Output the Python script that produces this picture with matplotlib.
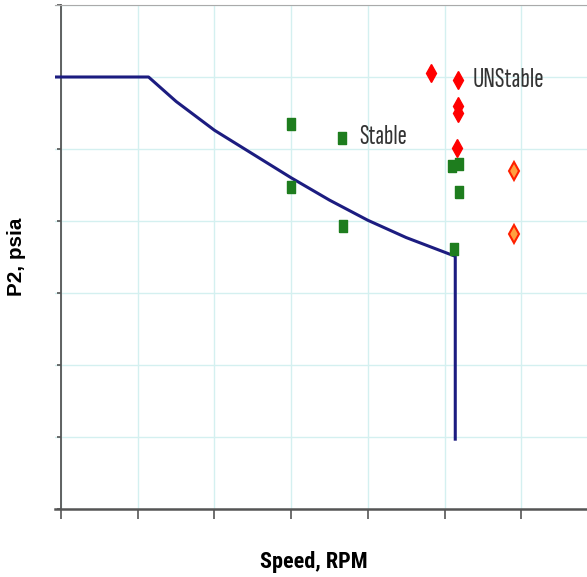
import numpy as np
import matplotlib.pyplot as plt
from matplotlib import font_manager
from matplotlib.font_manager import FontProperties
from matplotlib.textpath import TextPath

# Граница устойчивости
line_x = [-0.1, 1.14, 1.5, 2.0, 2.5, 3.0, 3.5, 4.0, 4.5, 5.14, 5.14]
line_y = [6.0, 6.0, 5.66, 5.26, 4.93, 4.60, 4.29, 4.01, 3.77, 3.51, 0.97]

# Устойчивые точки
stable_x = [3.0, 3.0, 3.66, 3.68, 5.10, 5.19, 5.19, 5.13]
stable_y = [5.35, 4.47, 5.15, 3.93, 4.77, 4.79, 4.40, 3.61]

# Неустойчивые точки
unstable_x = [4.83, 5.17, 5.17, 5.17, 5.16]
unstable_y = [6.06, 5.96, 5.60, 5.50, 5.01]

# Неустойчивые точки (светлые)
unstable2_x = [5.90, 5.90]
unstable2_y = [4.70, 3.82]

W, H = 587, 577

fonts = font_manager.fontManager.ttflist
names = set(f.name for f in fonts)


def weight_num(w):
    if isinstance(w, (int, float)):
        return w
    return font_manager.weight_dict.get(w, 400)


def pick(prefs, bold=False):
    for p in prefs:
        if p not in names:
            continue
        if bold and not any(f.name == p and weight_num(f.weight) >= 600 for f in fonts):
            continue
        return p
    return 'Liberation Sans'


CONDENSED = ['Sofia Sans Extra Condensed', 'Saira Extra Condensed',
             'Roboto Condensed', 'Barlow Condensed', 'Archivo Narrow',
             'Pathway Gothic One', 'Open Sans Condensed', 'PT Sans Narrow']
NARROW = pick(CONDENSED)
NARROW_BOLD = pick(CONDENSED, bold=True)
PLAIN = pick(['Liberation Sans'], bold=True)


# Подгонка размера текста под прямоугольник (в пикселях картинки)
def fit_text(fig, s, x0, x1, yt, yb, family, weight='normal', rotate=False,
             color='black'):
    prop = FontProperties(family=family, weight=weight)
    ext = TextPath((0, 0), s, size=100, prop=prop).get_extents()
    if rotate:
        along, across = yb - yt, x1 - x0
    else:
        along, across = x1 - x0, yb - yt
    k = np.sqrt((along / ext.width) * (across / ext.height))
    cx, cy = (x0 + x1) / 2, (yt + yb) / 2
    if rotate:
        ax_ = cx + (ext.y0 + ext.height / 2) * k
        ay_ = cy + (ext.x0 + ext.width / 2) * k
    else:
        ax_ = cx - (ext.x0 + ext.width / 2) * k
        ay_ = cy + (ext.y0 + ext.height / 2) * k
    fig.text(ax_ / W, 1 - ay_ / H, s, fontsize=k * 72,
             family=[family, 'DejaVu Sans'], weight=weight, color=color,
             ha='left', va='baseline', rotation=90 if rotate else 0,
             rotation_mode='anchor')


fig = plt.figure(figsize=(W / 100, H / 100), dpi=100)
ax = fig.add_axes([55 / W, (H - 509) / H, 532 / W, 504 / H])

rect = [(-0.35, -0.5), (0.35, -0.5), (0.35, 0.5), (-0.35, 0.5), (-0.35, -0.5)]
ax.plot(line_x, line_y, color='#1c1c80', lw=2.2, zorder=3)
ax.plot(stable_x, stable_y, linestyle='none', marker=rect, color='#1e7d1e',
        markersize=8.5, zorder=4)
ax.plot(unstable_x, unstable_y, 'd', color='#ff0000', markersize=9, zorder=4)
ax.plot(unstable2_x, unstable2_y, 'd', markerfacecolor='#ffa040',
        markeredgecolor='#ff2000', markeredgewidth=1.5, markersize=9, zorder=4)

ax.set_xlim(-0.08, 6.858)
ax.set_ylim(0, 7)
ax.set_xticks(range(0, 7))
ax.set_yticks(range(0, 8))
ax.set_xticklabels([])
ax.set_yticklabels([])
ax.grid(True, color='#d4f0f0', lw=1)
ax.set_axisbelow(True)

ax.spines['left'].set_position(('data', 0))
ax.spines['left'].set_color('#555555')
ax.spines['bottom'].set_color('#555555')
ax.spines['left'].set_linewidth(1.3)
ax.spines['bottom'].set_linewidth(1.8)
ax.spines['top'].set_color('#aaaaaa')
ax.spines['right'].set_visible(False)
ax.tick_params(axis='x', direction='out', length=7, width=1.2, color='#555555')
ax.tick_params(axis='y', direction='out', length=3, width=1.2, color='#555555')

fit_text(fig, 'Stable', 361, 405, 125, 145, NARROW, color='#333333')
fit_text(fig, 'UNStable', 475, 542, 67, 87, NARROW, color='#333333')
fit_text(fig, 'Speed, RPM', 263, 365, 551, 573, NARROW_BOLD, weight='bold')
fit_text(fig, 'P2, psia', 9, 25, 210, 302, PLAIN, weight='bold', rotate=True)

fig.savefig('out.png', dpi=100)
